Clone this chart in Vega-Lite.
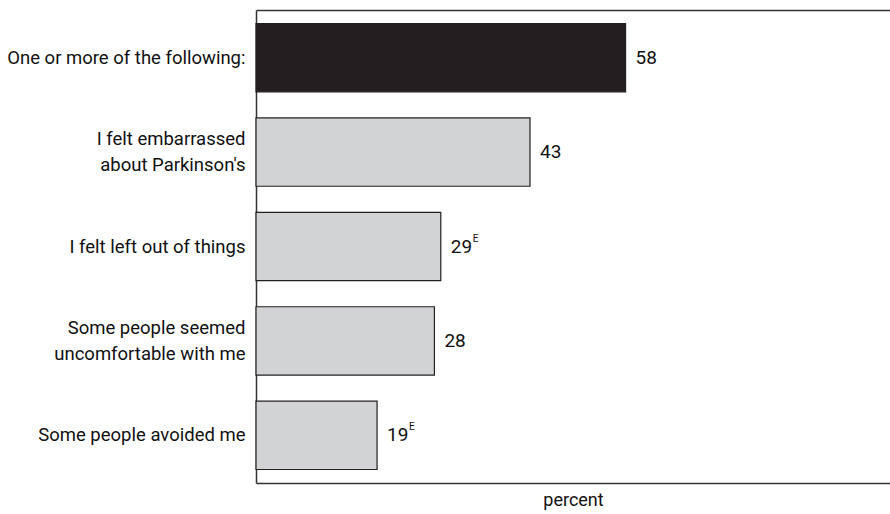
{
  "$schema": "https://vega.github.io/schema/vega-lite/v6.json",
  "width": 634,
  "height": 473,
  "autosize": {"type": "none"},
  "padding": {"left": 256, "top": 10, "right": 0, "bottom": 31},
  "background": "white",
  "config": {
    "view": {"stroke": null},
    "font": "Roboto",
    "text": {"font": "Roboto"}
  },
  "data": {
    "values": [
      {"label": "One or more of the following:", "pct": 58, "kind": "total", "flag": ""},
      {"label": "I felt embarrassed|about Parkinson's", "pct": 43, "kind": "item", "flag": ""},
      {"label": "I felt left out of things", "pct": 29, "kind": "item", "flag": "E"},
      {"label": "Some people seemed|uncomfortable with me", "pct": 28, "kind": "item", "flag": ""},
      {"label": "Some people avoided me", "pct": 19, "kind": "item", "flag": "E"}
    ]
  },
  "resolve": {"axis": {"x": "independent"}},
  "layer": [
    {
      "mark": {"type": "bar", "stroke": "#231f20", "strokeWidth": 1.2},
      "encoding": {
        "y": {
          "field": "label",
          "type": "nominal",
          "sort": null,
          "scale": {"paddingInner": 0.276, "paddingOuter": 0.143},
          "axis": {
            "title": null,
            "ticks": false,
            "domain": true,
            "domainColor": "#333333",
            "domainWidth": 1.5,
            "labelExpr": "split(datum.label, '|')",
            "labelFontSize": 18.5,
            "labelLineHeight": 26,
            "labelOffset": {"condition": {"test": "indexof(datum.value, '|') >= 0", "value": -13}, "value": 0},
            "labelColor": "#111111",
            "labelPadding": 11,
            "labelFont": "Roboto",
            "labelLimit": 300
          }
        },
        "x": {
          "field": "pct",
          "type": "quantitative",
          "scale": {"domain": [0, 99.5], "nice": false},
          "axis": {
            "orient": "bottom",
            "title": "percent",
            "titleFont": "Roboto",
            "titleFontSize": 18,
            "titleFontWeight": "normal",
            "titleColor": "#111111",
            "titlePadding": 8,
            "labels": false,
            "ticks": false,
            "grid": false,
            "domain": true,
            "domainColor": "#333333",
            "domainWidth": 1.5
          }
        },
        "color": {
          "field": "kind",
          "type": "nominal",
          "scale": {"domain": ["total", "item"], "range": ["#231f20", "#d1d3d4"]},
          "legend": null
        }
      }
    },
    {
      "mark": {"type": "text", "align": "left", "baseline": "middle", "dx": 10, "fontSize": 19, "color": "#111111", "font": "Roboto"},
      "encoding": {
        "y": {"field": "label", "type": "nominal", "sort": null},
        "x": {
          "field": "pct",
          "type": "quantitative",
          "axis": {
            "orient": "top",
            "title": null,
            "labels": false,
            "ticks": false,
            "grid": false,
            "domain": true,
            "domainColor": "#333333",
            "domainWidth": 1.5
          }
        },
        "text": {"field": "pct", "type": "quantitative"}
      }
    },
    {
      "transform": [{"filter": "datum.flag == 'E'"}],
      "mark": {"type": "text", "align": "left", "baseline": "middle", "dx": 32, "dy": -8, "fontSize": 10, "color": "#111111", "font": "Roboto"},
      "encoding": {
        "y": {"field": "label", "type": "nominal", "sort": null},
        "x": {"field": "pct", "type": "quantitative", "axis": null},
        "text": {"field": "flag", "type": "nominal"}
      }
    }
  ]
}
